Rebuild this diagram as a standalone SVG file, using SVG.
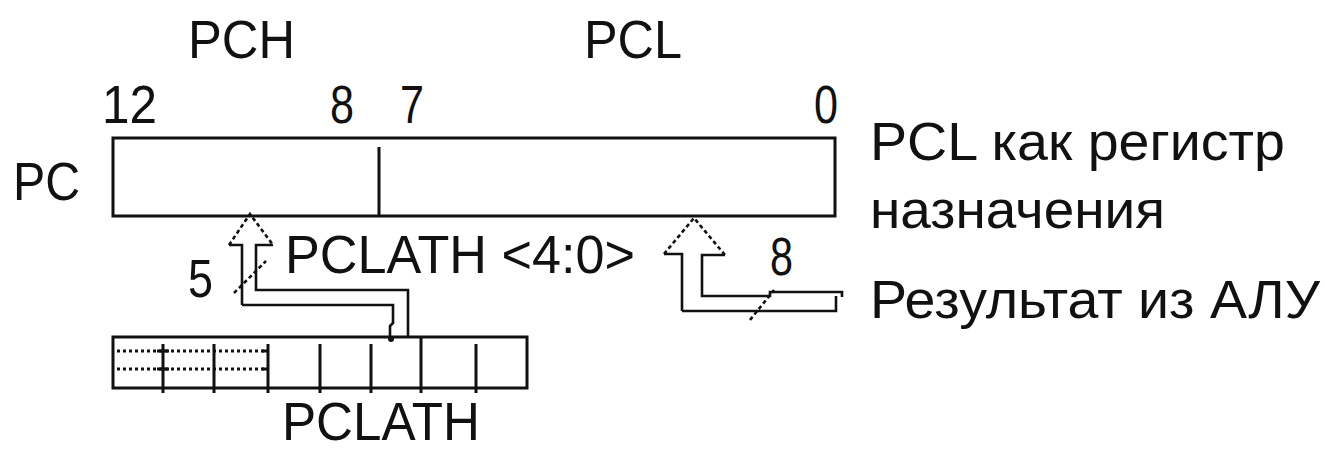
<svg xmlns="http://www.w3.org/2000/svg" width="1325" height="451" viewBox="0 0 1325 451">
<style>
text{font-family:"Liberation Sans",Arial,sans-serif;font-size:53px;fill:#111}
.box{fill:#fff;stroke:#111;stroke-width:3}
.ln{fill:none;stroke:#111;stroke-width:3}
.bus{fill:none;stroke:#111;stroke-width:2.6;stroke-linejoin:miter}
.dash{fill:none;stroke:#111;stroke-width:2.6;stroke-dasharray:4 3}
.dot{fill:none;stroke:#111;stroke-width:3;stroke-dasharray:3 3}
</style>
<rect width="1325" height="451" fill="#fff"/>
<g id="pc-register">
<rect class="box" x="113" y="138" width="722" height="78"/>
<line class="ln" x1="379" y1="147" x2="379" y2="216"/>
</g>
<g id="pclath-register">
<rect class="box" x="113" y="337" width="414" height="51"/>
<path class="ln" d="M163 344V393M214 344V393M268 344V393M320 344V393M371 344V393M421 337V393M476 344V393"/>
<path class="dot" d="M117 351H268M117 369H268"/>
<path class="ln" d="M157 351H169M157 369H169M262 351H268M262 369H268"/>
</g>
<g id="connectors">
<path class="bus" d="M242 305V245H229"/>
<path class="dash" d="M229 245L250 214L273 245"/>
<path class="bus" d="M273 245H256V290H408V337"/>
<path class="bus" d="M242 305H393V323L390 326V337"/>
<circle cx="391" cy="339" r="3" fill="#111"/>
<line class="dash" x1="234" y1="293" x2="266" y2="261"/>
<path class="bus" d="M682 311V254H664"/>
<path class="dash" d="M664 254L694 218L725 255"/>
<path class="bus" d="M725 255H702V296H770V292H842V297"/>
<path class="bus" d="M682 311H836V296"/>
<line class="dash" x1="750" y1="320" x2="774" y2="290"/>
</g>
<g id="labels">
<text x="188" y="58" textLength="107" lengthAdjust="spacingAndGlyphs">PCH</text>
<text x="584" y="58" textLength="98" lengthAdjust="spacingAndGlyphs">PCL</text>
<text x="102" y="123" textLength="55" lengthAdjust="spacingAndGlyphs">12</text>
<text x="330" y="123" textLength="24" lengthAdjust="spacingAndGlyphs">8</text>
<text x="400" y="123" textLength="24" lengthAdjust="spacingAndGlyphs">7</text>
<text x="814" y="123" textLength="24" lengthAdjust="spacingAndGlyphs">0</text>
<text x="13" y="200" textLength="67" lengthAdjust="spacingAndGlyphs">PC</text>
<text x="870" y="160" textLength="415" lengthAdjust="spacingAndGlyphs">PCL как регистр</text>
<text x="870" y="228" textLength="295" lengthAdjust="spacingAndGlyphs">назначения</text>
<text x="188" y="297" textLength="25" lengthAdjust="spacingAndGlyphs">5</text>
<text x="285" y="273" textLength="350" lengthAdjust="spacingAndGlyphs">PCLATH &lt;4:0&gt;</text>
<text x="770" y="275" textLength="23" lengthAdjust="spacingAndGlyphs">8</text>
<text x="870" y="318" textLength="450" lengthAdjust="spacingAndGlyphs">Результат из АЛУ</text>
<text x="282" y="440" font-size="48" textLength="198" lengthAdjust="spacingAndGlyphs">PCLATH</text>
</g>
</svg>
